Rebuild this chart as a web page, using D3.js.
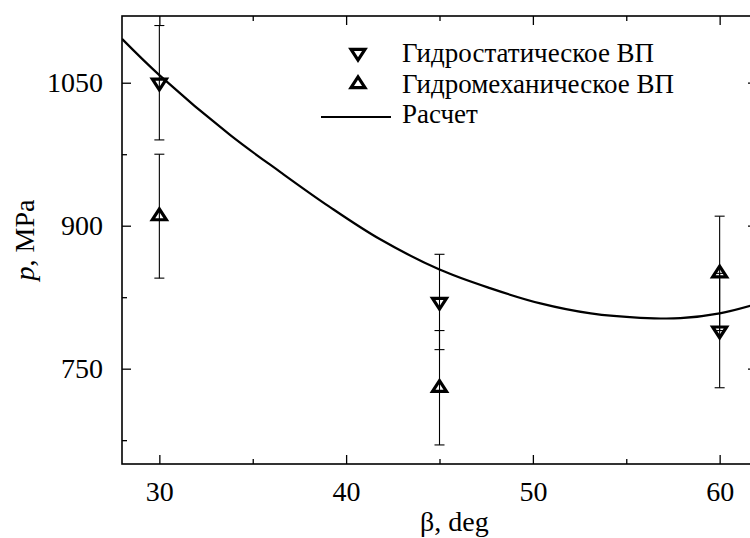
<!DOCTYPE html>
<html>
<head>
<meta charset="utf-8">
<script src="https://cdn.jsdelivr.net/npm/d3@7"></script>
</head>
<body style="margin:0">
<script>
(function () {
    'use strict'

    // measured points (deg, MPa)
    var betaPoints = [30, 45, 60]
    var hydrostatic = [1050, 820, 790]
    var hydrostaticErr = [60, 50, 60]
    var hydromech = [910, 730, 850]
    var hydromechErr = [65, 60, 60]

    // calculated curve
    var calcBeta = [28, 30, 33.8, 36.5, 39.1, 41.8, 45, 47.7, 50.4, 53.1, 55.75, 57.9, 60, 62]
    var calcP = [1096, 1058, 995, 956, 920, 886, 854, 834.5, 818.5, 808, 803.4, 803, 808, 818]

    var xMajor = [30, 40, 50, 60]
    var xMinor = [35, 45, 55]
    var yMajor = [750, 900, 1050]
    var yMinor = [675, 825, 975]

    var legendLabels = ['Гидростатическое ВП', 'Гидромеханическое ВП', 'Расчет']

    var FONT = '"Liberation Serif"'

    var width = 750,
        height = 538,
        margin = { top: 16, right: -7, bottom: 74, left: 122 },
        w = width - margin.left - margin.right,
        h = height - margin.top - margin.bottom

    var x = d3.scaleLinear().domain([28, 62]).range([0, w])
    var y = d3.scaleLinear().domain([650, 1120]).range([h, 0])

    var svg = d3.select('body').append('svg')
        .attr('width', width)
        .attr('height', height)

    var g = svg.append('g')
        .attr('transform', 'translate(' + margin.left + ',' + margin.top + ')')

    g.append('clipPath').attr('id', 'clip')
        .append('rect').attr('width', w).attr('height', h)

    // triangle markers, centred on the centroid
    var triDown = {
        draw: function (ctx, size) {
            var s = Math.sqrt(size), hw = s * 0.65, th = s
            ctx.moveTo(-hw, -th / 3)
            ctx.lineTo(hw, -th / 3)
            ctx.lineTo(0, th * 2 / 3)
            ctx.closePath()
        }
    }
    var triUp = {
        draw: function (ctx, size) {
            var s = Math.sqrt(size), hw = s * 0.65, th = s
            ctx.moveTo(-hw, th / 3)
            ctx.lineTo(hw, th / 3)
            ctx.lineTo(0, -th * 2 / 3)
            ctx.closePath()
        }
    }

    function serif(sel, size) {
        sel.style('font-family', FONT, 'important')
            .style('font-size', size + 'px')
            .attr('fill', '#000')
    }

    function styleAxis(sel) {
        sel.attr('font-family', null).attr('font-size', null)
        sel.select('.domain').remove()
        sel.selectAll('.tick line').attr('stroke', '#000').attr('stroke-width', 1.3)
        sel.selectAll('.tick text').call(serif, 28)
    }

    // axes with inward ticks
    g.append('g').attr('transform', 'translate(0,' + h + ')')
        .call(d3.axisBottom(x).tickValues(xMajor).tickSize(-9).tickPadding(17).tickFormat(d3.format('d')))
        .call(styleAxis)
    g.append('g').attr('transform', 'translate(0,' + h + ')')
        .call(d3.axisBottom(x).tickValues(xMinor).tickSize(-5).tickFormat(''))
        .call(styleAxis)
    g.append('g')
        .call(d3.axisTop(x).tickValues(xMajor).tickSize(-9).tickFormat(''))
        .call(styleAxis)
    g.append('g')
        .call(d3.axisTop(x).tickValues(xMinor).tickSize(-5).tickFormat(''))
        .call(styleAxis)

    g.append('g')
        .call(d3.axisLeft(y).tickValues(yMajor).tickSize(-9).tickPadding(19).tickFormat(d3.format('d')))
        .call(styleAxis)
    g.append('g')
        .call(d3.axisLeft(y).tickValues(yMinor).tickSize(-5).tickFormat(''))
        .call(styleAxis)
    g.append('g').attr('transform', 'translate(' + w + ',0)')
        .call(d3.axisRight(y).tickValues(yMajor).tickSize(-9).tickFormat(''))
        .call(styleAxis)
    g.append('g').attr('transform', 'translate(' + w + ',0)')
        .call(d3.axisRight(y).tickValues(yMinor).tickSize(-5).tickFormat(''))
        .call(styleAxis)

    // frame
    g.append('rect')
        .attr('width', w).attr('height', h)
        .attr('fill', 'none').attr('stroke', '#000').attr('stroke-width', 1.6)

    // calculated curve
    var calc = calcBeta.map(function (b, i) { return [b, calcP[i]] })
    g.append('path')
        .datum(calc)
        .attr('clip-path', 'url(#clip)')
        .attr('fill', 'none')
        .attr('stroke', '#000')
        .attr('stroke-width', 2.2)
        .attr('d', d3.line()
            .x(function (d) { return x(d[0]) })
            .y(function (d) { return y(d[1]) })
            .curve(d3.curveCatmullRom))

    // error bars
    function series(values, errs) {
        var data = betaPoints.map(function (b, i) {
            return { b: b, v: values[i], e: errs[i] }
        })
        var eb = g.append('g').selectAll('g').data(data).enter().append('g')
            .attr('stroke', '#000').attr('stroke-width', 1.1)
        eb.append('line')
            .attr('x1', function (d) { return x(d.b) })
            .attr('x2', function (d) { return x(d.b) })
            .attr('y1', function (d) { return y(d.v - d.e) })
            .attr('y2', function (d) { return y(d.v + d.e) })
        eb.append('line')
            .attr('x1', function (d) { return x(d.b) - 5 })
            .attr('x2', function (d) { return x(d.b) + 5 })
            .attr('y1', function (d) { return y(d.v + d.e) })
            .attr('y2', function (d) { return y(d.v + d.e) })
        eb.append('line')
            .attr('x1', function (d) { return x(d.b) - 5 })
            .attr('x2', function (d) { return x(d.b) + 5 })
            .attr('y1', function (d) { return y(d.v - d.e) })
            .attr('y2', function (d) { return y(d.v - d.e) })
        return data
    }
    var dDown = series(hydrostatic, hydrostaticErr)
    var dUp = series(hydromech, hydromechErr)

    // markers
    var sym = d3.symbol().size(115)
    g.append('g').selectAll('path').data(dDown).enter().append('path')
        .attr('d', sym.type(triDown)())
        .attr('transform', function (d) { return 'translate(' + x(d.b) + ',' + y(d.v) + ')' })
        .attr('fill', 'none').attr('stroke', '#000').attr('stroke-width', 3.2)
    g.append('g').selectAll('path').data(dUp).enter().append('path')
        .attr('d', sym.type(triUp)())
        .attr('transform', function (d) { return 'translate(' + x(d.b) + ',' + y(d.v) + ')' })
        .attr('fill', 'none').attr('stroke', '#000').attr('stroke-width', 3.2)

    // legend
    var leg = svg.append('g')
    leg.append('path').attr('d', sym.type(triDown)())
        .attr('transform', 'translate(358,53)')
        .attr('fill', 'none').attr('stroke', '#000').attr('stroke-width', 3.2)
    leg.append('path').attr('d', sym.type(triUp)())
        .attr('transform', 'translate(358,84)')
        .attr('fill', 'none').attr('stroke', '#000').attr('stroke-width', 3.2)
    leg.append('line').attr('x1', 321).attr('x2', 391).attr('y1', 117).attr('y2', 117)
        .attr('stroke', '#000').attr('stroke-width', 2.2)
    leg.selectAll('text').data(legendLabels).enter().append('text')
        .attr('x', 402)
        .attr('y', function (d, i) { return 62 + i * 30.5 })
        .call(serif, 27)
        .text(function (d) { return d })

    // axis titles
    svg.append('text')
        .attr('x', margin.left + x(45.8))
        .attr('y', 531)
        .attr('text-anchor', 'middle')
        .call(serif, 28)
        .text('β, deg')

    var yt = svg.append('text')
        .attr('transform', 'translate(34,' + (margin.top + h / 2) + ') rotate(-90)')
        .attr('text-anchor', 'middle')
        .call(serif, 28)
    yt.append('tspan').style('font-style', 'italic').text('p')
    yt.append('tspan').text(', MPa')
})()
</script>
</body>
</html>
